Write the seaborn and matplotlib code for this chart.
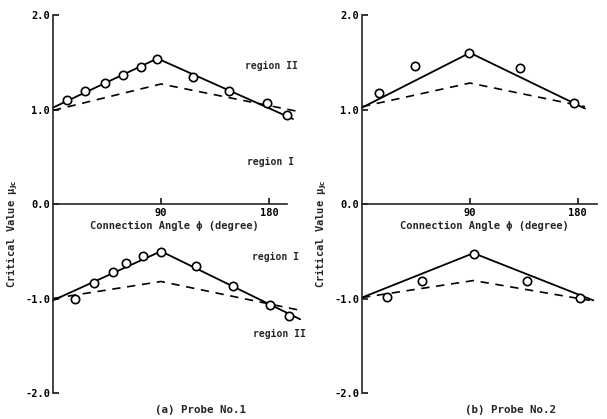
import numpy as np
import pandas as pd
import seaborn as sns
import matplotlib.pyplot as plt

# (a) Probe No.1 - measured points
a_ang_up = [12, 27, 43, 58, 73, 87, 117, 147, 178, 195]
a_val_up = [1.10, 1.20, 1.28, 1.36, 1.45, 1.53, 1.34, 1.20, 1.07, 0.94]
a_ang_lo = [18, 34, 50, 61, 75, 90, 119, 150, 181, 197]
a_val_lo = [-1.00, -0.84, -0.72, -0.62, -0.55, -0.51, -0.66, -0.87, -1.07, -1.19]
# fitted (solid) and predicted (dashed) lines
a_fit_up_x = [0, 87, 200]
a_fit_up_y = [1.02, 1.54, 0.90]
a_pred_up_x = [0, 90, 204]
a_pred_up_y = [0.99, 1.27, 0.98]
a_fit_lo_x = [0, 90, 206]
a_fit_lo_y = [-1.02, -0.50, -1.22]
a_pred_lo_x = [0, 90, 204]
a_pred_lo_y = [-1.00, -0.82, -1.12]

# (b) Probe No.2
b_ang_up = [14, 44, 89, 132, 177]
b_val_up = [1.17, 1.46, 1.60, 1.44, 1.07]
b_ang_lo = [21, 50, 93, 138, 182]
b_val_lo = [-0.98, -0.81, -0.53, -0.81, -0.99]
b_fit_up_x = [0, 90, 186]
b_fit_up_y = [1.02, 1.60, 1.01]
b_pred_up_x = [0, 90, 186]
b_pred_up_y = [1.03, 1.28, 1.03]
b_fit_lo_x = [0, 93, 193]
b_fit_lo_y = [-0.99, -0.52, -1.02]
b_pred_lo_x = [0, 93, 190]
b_pred_lo_y = [-0.99, -0.81, -1.02]

y_ticks = [-2.0, -1.0, 0.0, 1.0, 2.0]
x_ticks = [90, 180]

sns.set_theme(style="ticks")
plt.rcParams['font.family'] = ['DejaVu Sans Mono']
plt.rcParams['font.weight'] = 'bold'
plt.rcParams['mathtext.default'] = 'bf'
plt.rcParams['axes.unicode_minus'] = False

fig = plt.figure(figsize=(6.07, 4.19), dpi=100)
ax_a = fig.add_axes([53 / 607, 1 - 393 / 419, 234 / 607, 378 / 419])
ax_b = fig.add_axes([362 / 607, 1 - 393 / 419, 235 / 607, 378 / 419])


def draw_panel(ax, xmax, pts, fits, preds, title):
    for xs, ys in fits:
        sns.lineplot(x=xs, y=ys, ax=ax, color='black', linewidth=1.3, clip_on=False)
    for xs, ys in preds:
        sns.lineplot(x=xs, y=ys, ax=ax, color='black', linewidth=1.2,
                     linestyle=(0, (5, 4)), clip_on=False)
    for xs, ys in pts:
        sns.scatterplot(x=xs, y=ys, ax=ax, s=36, facecolor='white', edgecolor='black',
                        linewidth=1.2, zorder=3, clip_on=False)
    ax.set_xlim(0, xmax)
    ax.set_ylim(-2, 2)
    for s in ['top', 'right']:
        ax.spines[s].set_visible(False)
    ax.spines['bottom'].set_position(('data', 0))
    ax.spines['bottom'].set_linewidth(1.2)
    ax.spines['left'].set_linewidth(1.2)
    ax.set_xticks(x_ticks)
    ax.set_xticklabels([str(t) for t in x_ticks], fontsize=7.5)
    ax.set_yticks(y_ticks)
    ax.set_yticklabels(['%.1f' % t for t in y_ticks], fontsize=7.5)
    ax.tick_params(axis='both', direction='in', length=4, width=1.1, pad=2, colors='black')
    ax.tick_params(axis='x', pad=3)
    ax.set_xlabel('')
    ax.text(0.52, -0.23, u'Connection Angle \u03d5 (degree)', transform=ax.get_yaxis_transform(),
            ha='center', va='center', fontsize=7.5)
    ax.set_ylabel(u'Critical Value \u03bc$_{Jc}$', fontsize=7.5, fontweight='bold')
    ax.yaxis.set_label_coords(-0.14, 0.42)
    ax.text(0.63, -0.045, title, transform=ax.transAxes, ha='center', va='center', fontsize=7.8)


draw_panel(ax_a, 195,
           [(a_ang_up, a_val_up), (a_ang_lo, a_val_lo)],
           [(a_fit_up_x, a_fit_up_y), (a_fit_lo_x, a_fit_lo_y)],
           [(a_pred_up_x, a_pred_up_y), (a_pred_lo_x, a_pred_lo_y)],
           '(a) Probe No.1')
draw_panel(ax_b, 196,
           [(b_ang_up, b_val_up), (b_ang_lo, b_val_lo)],
           [(b_fit_up_x, b_fit_up_y), (b_fit_lo_x, b_fit_lo_y)],
           [(b_pred_up_x, b_pred_up_y), (b_pred_lo_x, b_pred_lo_y)],
           '(b) Probe No.2')

# region labels on panel (a)
ax_a.text(160, 1.46, 'region II', fontsize=7, va='center', ha='left')
ax_a.text(162, 0.44, 'region I', fontsize=7, va='center', ha='left')
ax_a.text(166, -0.56, 'region I', fontsize=7, va='center', ha='left')
ax_a.text(167, -1.38, 'region II', fontsize=7, va='center', ha='left')

fig.savefig('out.png', dpi=100, facecolor='white')
